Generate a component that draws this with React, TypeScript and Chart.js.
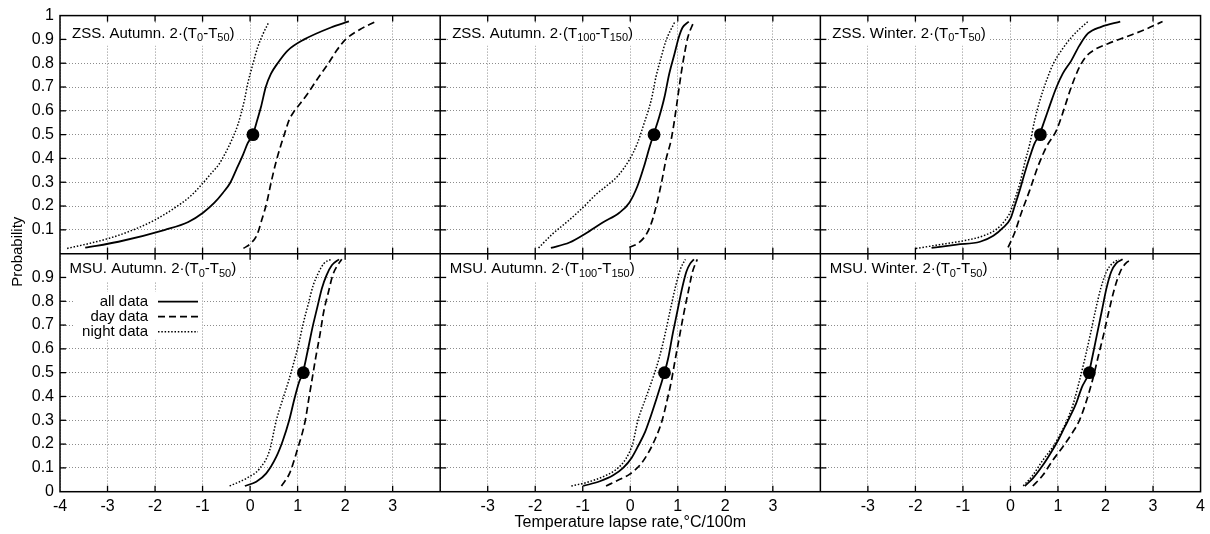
import React, { useEffect, useRef } from 'react';
import { Chart, registerables } from 'chart.js';

Chart.register(...registerables);

// ---------- data ----------
const panelTitles = [
  'ZSS. Autumn. 2·(T_{0}-T_{50})',
  'ZSS. Autumn. 2·(T_{100}-T_{150})',
  'ZSS. Winter. 2·(T_{0}-T_{50})',
  'MSU. Autumn. 2·(T_{0}-T_{50})',
  'MSU. Autumn. 2·(T_{100}-T_{150})',
  'MSU. Winter. 2·(T_{0}-T_{50})',
];
const seriesLabels = ['all data', 'day data', 'night data'];
const xTitle = 'Temperature lapse rate,°C/100m';
const yTitle = 'Probability';
const medians = [0.06, 0.5, 0.63, 1.12, 0.72, 1.66];

// ZSS Autumn 2(T0-T50)
const zssAutLowAll = [[-3.47,0.025],[-2.77,0.05],[-1.79,0.10],[-1.30,0.133],[-0.99,0.172],[-0.75,0.214],[-0.57,0.256],[-0.42,0.297],[-0.29,0.353],[-0.15,0.415],[-0.05,0.464],[0.06,0.5],[0.13,0.547],[0.23,0.617],[0.33,0.70],[0.44,0.756],[0.58,0.80],[0.79,0.853],[1.14,0.90],[1.70,0.95],[2.08,0.976]];
const zssAutLowDay = [[-0.14,0.022],[0.02,0.044],[0.15,0.081],[0.24,0.138],[0.35,0.214],[0.44,0.297],[0.54,0.381],[0.65,0.457],[0.74,0.513],[0.82,0.561],[0.92,0.596],[1.03,0.624],[1.21,0.672],[1.42,0.735],[1.64,0.797],[1.82,0.853],[2.01,0.90],[2.32,0.943],[2.64,0.975]];
const zssAutLowNight = [[-3.85,0.022],[-3.40,0.042],[-2.91,0.068],[-2.42,0.103],[-2.0,0.142],[-1.58,0.193],[-1.24,0.244],[-0.99,0.297],[-0.81,0.339],[-0.66,0.374],[-0.54,0.415],[-0.40,0.471],[-0.26,0.54],[-0.12,0.644],[-0.05,0.714],[0.06,0.797],[0.16,0.867],[0.27,0.922],[0.39,0.971]];

// ZSS Autumn 2(T100-T150)
const zssAutHighAll = [[-1.67,0.024],[-1.28,0.047],[-0.93,0.086],[-0.58,0.131],[-0.23,0.172],[-0.02,0.214],[0.15,0.283],[0.29,0.367],[0.41,0.45],[0.49,0.5],[0.61,0.575],[0.72,0.658],[0.82,0.756],[0.93,0.839],[1.02,0.908],[1.10,0.95],[1.23,0.975]];
const zssAutHighDay = [[-0.02,0.026],[0.19,0.047],[0.36,0.089],[0.47,0.144],[0.58,0.228],[0.67,0.311],[0.75,0.394],[0.86,0.478],[0.93,0.561],[1.0,0.658],[1.07,0.756],[1.14,0.839],[1.21,0.908],[1.33,0.971]];
const zssAutHighNight = [[-1.93,0.024],[-1.64,0.082],[-1.28,0.142],[-1.0,0.193],[-0.72,0.249],[-0.51,0.283],[-0.27,0.325],[-0.02,0.394],[0.15,0.464],[0.29,0.547],[0.44,0.644],[0.54,0.742],[0.65,0.825],[0.75,0.894],[0.93,0.971]];

// ZSS Winter 2(T0-T50)
const zssWinAll = [[-1.66,0.024],[-1.13,0.038],[-0.64,0.05],[-0.36,0.075],[-0.15,0.11],[0.0,0.147],[0.09,0.20],[0.20,0.269],[0.30,0.339],[0.41,0.408],[0.51,0.464],[0.61,0.5],[0.72,0.561],[0.83,0.624],[0.97,0.70],[1.10,0.756],[1.28,0.811],[1.45,0.874],[1.63,0.925],[1.91,0.953],[2.31,0.975]];
const zssWinDay = [[-0.05,0.026],[0.09,0.089],[0.23,0.172],[0.41,0.269],[0.58,0.367],[0.76,0.45],[0.97,0.519],[1.12,0.603],[1.28,0.70],[1.45,0.783],[1.59,0.828],[1.78,0.858],[2.05,0.882],[2.45,0.912],[2.85,0.943],[3.20,0.975]];
const zssWinNight = [[-1.99,0.022],[-1.48,0.038],[-0.99,0.054],[-0.57,0.075],[-0.29,0.103],[-0.12,0.138],[-0.01,0.172],[0.09,0.228],[0.20,0.297],[0.30,0.381],[0.41,0.464],[0.51,0.561],[0.62,0.644],[0.76,0.728],[0.90,0.797],[1.07,0.853],[1.28,0.908],[1.45,0.943],[1.63,0.975]];

// MSU Autumn 2(T0-T50)
const msuAutLowAll = [[-0.11,0.024],[0.13,0.042],[0.34,0.077],[0.55,0.146],[0.69,0.215],[0.82,0.298],[0.94,0.396],[1.03,0.46],[1.11,0.5],[1.21,0.59],[1.31,0.687],[1.41,0.771],[1.51,0.854],[1.61,0.91],[1.72,0.951],[1.87,0.976]];
const msuAutLowDay = [[0.66,0.024],[0.83,0.077],[0.99,0.174],[1.16,0.298],[1.24,0.396],[1.31,0.479],[1.38,0.5625],[1.47,0.66],[1.55,0.757],[1.65,0.84],[1.74,0.91],[1.84,0.951],[1.93,0.976]];
const msuAutLowNight = [[-0.43,0.024],[-0.08,0.056],[0.2,0.097],[0.41,0.173],[0.55,0.298],[0.70,0.396],[0.81,0.465],[0.91,0.535],[1.02,0.618],[1.11,0.70],[1.22,0.785],[1.33,0.868],[1.45,0.924],[1.55,0.958],[1.70,0.976]];

// MSU Autumn 2(T100-T150)
const msuAutHighAll = [[-0.99,0.024],[-0.64,0.044],[-0.36,0.069],[-0.15,0.1],[0.03,0.143],[0.17,0.194],[0.31,0.25],[0.40,0.299],[0.56,0.396],[0.66,0.46],[0.72,0.5],[0.80,0.5625],[0.89,0.66],[0.99,0.757],[1.09,0.854],[1.18,0.924],[1.26,0.958],[1.34,0.976]];
const msuAutHighDay = [[-0.51,0.024],[-0.23,0.051],[-0.01,0.074],[0.20,0.111],[0.37,0.16],[0.51,0.215],[0.67,0.299],[0.77,0.38],[0.86,0.46],[0.94,0.549],[1.03,0.646],[1.12,0.743],[1.22,0.84],[1.31,0.924],[1.41,0.976]];
const msuAutHighNight = [[-1.24,0.024],[-0.93,0.038],[-0.58,0.0625],[-0.30,0.093],[-0.09,0.139],[0.05,0.201],[0.16,0.299],[0.32,0.39],[0.48,0.48],[0.61,0.5625],[0.73,0.66],[0.85,0.771],[0.96,0.868],[1.06,0.9375],[1.16,0.976]];

// MSU Winter 2(T0-T50)
const msuWinAll = [[0.30,0.024],[0.47,0.056],[0.68,0.111],[0.86,0.167],[1.0,0.215],[1.14,0.271],[1.24,0.31],[1.38,0.37],[1.50,0.4375],[1.65,0.5],[1.72,0.5625],[1.82,0.66],[1.92,0.757],[2.02,0.854],[2.12,0.924],[2.22,0.958],[2.36,0.976]];
const msuWinDay = [[0.47,0.024],[0.68,0.069],[0.89,0.132],[1.10,0.188],[1.31,0.25],[1.45,0.299],[1.60,0.382],[1.74,0.479],[1.84,0.5625],[1.96,0.66],[2.07,0.757],[2.19,0.854],[2.31,0.924],[2.42,0.958],[2.56,0.976]];
const msuWinNight = [[0.27,0.024],[0.47,0.069],[0.68,0.132],[0.89,0.188],[1.07,0.25],[1.19,0.30],[1.32,0.368],[1.45,0.465],[1.57,0.5625],[1.68,0.66],[1.80,0.771],[1.90,0.854],[2.02,0.924],[2.14,0.958],[2.28,0.976]];

const panelSeries = [
  [zssAutLowAll, zssAutLowDay, zssAutLowNight],
  [zssAutHighAll, zssAutHighDay, zssAutHighNight],
  [zssWinAll, zssWinDay, zssWinNight],
  [msuAutLowAll, msuAutLowDay, msuAutLowNight],
  [msuAutHighAll, msuAutHighDay, msuAutHighNight],
  [msuWinAll, msuWinDay, msuWinNight],
];

// ---------- styles ----------
const FONT = '"Liberation Sans", Arial, Helvetica, sans-serif';
const GRID = '#8c8c8c';
const seriesStyles = [
  { dash: [] as number[], width: 1.8 },
  { dash: [7, 4], width: 1.7 },
  { dash: [1.5, 1.8], width: 1.5 },
];

function parseRich(s: string) {
  const parts: { t: string; sub: boolean }[] = [];
  const re = /_\{([^}]*)\}/g;
  let last = 0;
  let m: RegExpExecArray | null;
  while ((m = re.exec(s))) {
    if (m.index > last) parts.push({ t: s.slice(last, m.index), sub: false });
    parts.push({ t: m[1], sub: true });
    last = re.lastIndex;
  }
  if (last < s.length) parts.push({ t: s.slice(last), sub: false });
  return parts;
}

const MAIN_FONT = `15px ${FONT}`;
const SUB_FONT = `11px ${FONT}`;

function richWidth(ctx: CanvasRenderingContext2D, parts: { t: string; sub: boolean }[]) {
  let w = 0;
  for (const p of parts) {
    ctx.font = p.sub ? SUB_FONT : MAIN_FONT;
    w += ctx.measureText(p.t).width;
  }
  return w;
}

function drawRich(ctx: CanvasRenderingContext2D, parts: { t: string; sub: boolean }[], x: number, baseline: number) {
  let cx = x;
  for (const p of parts) {
    ctx.font = p.sub ? SUB_FONT : MAIN_FONT;
    ctx.fillText(p.t, cx, baseline + (p.sub ? 3.5 : 0));
    cx += ctx.measureText(p.t).width;
  }
}

const X_IDS = ['x1', 'x2', 'x3'];
const Y_IDS = ['yTop', 'yBot'];

function panelBox(chart: any, i: number) {
  const col = i % 3;
  const row = Math.floor(i / 3);
  const xs = chart.scales[X_IDS[col]];
  const ys = chart.scales[Y_IDS[row]];
  return {
    left: xs.getPixelForValue(-4),
    right: xs.getPixelForValue(4),
    top: ys.getPixelForValue(1),
    bottom: ys.getPixelForValue(0),
    row,
    col,
  };
}

const decorPlugin = {
  id: 'panelDecor',
  beforeDatasetsDraw(chart: any) {
    const ctx: CanvasRenderingContext2D = chart.ctx;
    ctx.save();
    // panel titles
    panelTitles.forEach((title, i) => {
      const b = panelBox(chart, i);
      const parts = parseRich(title);
      const x0 = b.left + (b.row === 0 ? 12 : 9.5);
      const base = b.top + (b.row === 0 ? 22 : 19.5);
      const w = richWidth(ctx, parts);
      ctx.fillStyle = '#fff';
      ctx.fillRect(x0 - 3, base - 14, w + 6, 22);
      ctx.fillStyle = '#000';
      ctx.textBaseline = 'alphabetic';
      ctx.textAlign = 'left';
      drawRich(ctx, parts, x0, base);
    });
    // legend in bottom-left panel
    const lb = panelBox(chart, 3);
    ctx.fillStyle = '#fff';
    ctx.fillRect(lb.left + 14, lb.top + 38, 128, 48);
    ctx.font = MAIN_FONT;
    ctx.textAlign = 'right';
    ctx.textBaseline = 'middle';
    seriesLabels.forEach((lab, k) => {
      const y = lb.top + 48 + k * 15;
      ctx.fillStyle = '#000';
      ctx.fillText(lab, lb.left + 88, y + 0.5);
      ctx.beginPath();
      ctx.strokeStyle = '#000';
      ctx.lineWidth = seriesStyles[k].width;
      ctx.setLineDash(seriesStyles[k].dash);
      ctx.moveTo(lb.left + 98, y);
      ctx.lineTo(lb.left + 138, y);
      ctx.stroke();
    });
    ctx.restore();
  },
  afterDatasetsDraw(chart: any) {
    const ctx: CanvasRenderingContext2D = chart.ctx;
    const xs = X_IDS.map((id) => chart.scales[id]);
    const ys = Y_IDS.map((id) => chart.scales[id]);
    const left = xs[0].getPixelForValue(-4);
    const right = xs[2].getPixelForValue(4);
    const top = ys[0].getPixelForValue(1);
    const bottom = ys[1].getPixelForValue(0);
    const mid = ys[1].getPixelForValue(1);
    const dividers = [xs[1].getPixelForValue(-4), xs[2].getPixelForValue(-4)];
    const line = (a: number, b: number, c: number, d: number) => {
      ctx.beginPath();
      ctx.moveTo(a, b);
      ctx.lineTo(c, d);
      ctx.stroke();
    };
    ctx.save();
    ctx.setLineDash([]);
    ctx.strokeStyle = '#000';
    ctx.lineWidth = 1.5;
    ctx.strokeRect(left, top, right - left, bottom - top);
    dividers.forEach((px) => line(px, top, px, bottom));
    line(left, mid, right, mid);
    const TL = 6;
    ctx.lineWidth = 1.3;
    xs.forEach((s: any) => {
      s.ticks.forEach((t: any) => {
        if (t.value <= -4 || t.value >= 4) return;
        const px = s.getPixelForValue(t.value);
        line(px, bottom, px, bottom - TL);
        line(px, top, px, top + TL);
        line(px, mid - TL, px, mid + TL);
      });
    });
    const verticals = [left, ...dividers, right];
    ys.forEach((s: any) => {
      s.ticks.forEach((t: any) => {
        if (t.value <= 0.001 || t.value >= 0.999) return;
        const py = s.getPixelForValue(t.value);
        verticals.forEach((vx, k) => {
          const a = k === 0 ? vx : vx - TL;
          const b = k === verticals.length - 1 ? vx : vx + TL;
          line(a, py, b, py);
        });
      });
    });
    ctx.restore();
  },
  afterDraw(chart: any) {
    const ctx: CanvasRenderingContext2D = chart.ctx;
    const ys = chart.scales.yBot;
    ctx.save();
    ctx.translate(18, ys.getPixelForValue(1) - 2);
    ctx.rotate(-Math.PI / 2);
    ctx.font = `15px ${FONT}`;
    ctx.fillStyle = '#000';
    ctx.textAlign = 'center';
    ctx.textBaseline = 'middle';
    ctx.fillText(yTitle, 0, 0);
    ctx.restore();
  },
};

function buildDatasets() {
  const ds: any[] = [];
  panelSeries.forEach((series, i) => {
    const col = i % 3;
    const row = Math.floor(i / 3);
    const xAxisID = X_IDS[col];
    const yAxisID = Y_IDS[row];
    [2, 1, 0].forEach((k) => {
      ds.push({
        label: `${panelTitles[i]} ${seriesLabels[k]}`,
        data: series[k].map(([x, y]) => ({ x, y })),
        xAxisID,
        yAxisID,
        borderColor: '#000',
        borderWidth: seriesStyles[k].width,
        borderDash: seriesStyles[k].dash,
        pointRadius: 0,
        pointHoverRadius: 0,
        fill: false,
        cubicInterpolationMode: 'monotone',
        showLine: true,
      });
    });
    ds.push({
      label: `${panelTitles[i]} median`,
      data: [{ x: medians[i], y: 0.5 }],
      xAxisID,
      yAxisID,
      showLine: false,
      pointRadius: 6.4,
      pointBackgroundColor: '#000',
      pointBorderColor: '#000',
      pointBorderWidth: 0,
    });
  });
  return ds;
}

const xLabelFilters = [
  (v: number) => (v === 4 ? '' : String(v)),
  (v: number) => (Math.abs(v) === 4 ? '' : String(v)),
  (v: number) => (v === -4 ? '' : String(v)),
];

function xScale(col: number) {
  return {
    type: 'linear',
    position: 'bottom',
    stack: 'cols',
    stackWeight: 1,
    weight: col,
    min: -4,
    max: 4,
    afterFit: (s: any) => {
      s.height = 42.3;
    },
    grid: { color: GRID, lineWidth: 1, drawTicks: false },
    border: { display: false, dash: [1, 2] },
    ticks: {
      stepSize: 1,
      autoSkip: false,
      maxRotation: 0,
      padding: 5,
      color: '#000',
      font: { family: FONT, size: 16 },
      callback: (v: any) => xLabelFilters[col](Number(v)),
    },
    title:
      col === 1
        ? { display: true, text: xTitle, color: '#000', font: { family: FONT, size: 16 }, padding: { top: 0, bottom: 2 } }
        : { display: false },
  };
}

function yScale(row: number) {
  return {
    type: 'linear',
    position: 'left',
    stack: 'rows',
    stackWeight: 1,
    weight: row === 0 ? 1 : 0,
    min: 0,
    max: 1,
    afterFit: (s: any) => {
      s.width = 60;
    },
    grid: { color: GRID, lineWidth: 1, drawTicks: false },
    border: { display: false, dash: [1, 2] },
    ticks: {
      stepSize: 0.1,
      autoSkip: false,
      padding: 6,
      color: '#000',
      font: { family: FONT, size: 16 },
      callback: (v: any) => {
        const n = Math.round(Number(v) * 10) / 10;
        if (row === 0 && n === 0) return '';
        if (row === 1 && n === 1) return '';
        return String(n);
      },
    },
  };
}

export default function App() {
  const ref = useRef<HTMLCanvasElement>(null);
  useEffect(() => {
    const canvas = ref.current;
    if (!canvas) return;
    const chart = new Chart(canvas, {
      type: 'line',
      data: { datasets: buildDatasets() },
      options: {
        responsive: false,
        animation: false,
        layout: { padding: { top: 11, right: 9, left: 0, bottom: 0 } },
        plugins: { legend: { display: false }, tooltip: { enabled: false } },
        scales: {
          x1: xScale(0),
          x2: xScale(1),
          x3: xScale(2),
          yTop: yScale(0),
          yBot: yScale(1),
        } as any,
      },
      plugins: [decorPlugin],
    } as any);
    return () => chart.destroy();
  }, []);
  return (
    <div style={{ position: 'fixed', left: 0, top: 0, width: 1210, height: 534, background: '#fff' }}>
      <canvas ref={ref} width={1210} height={534} style={{ display: 'block', width: 1210, height: 534 }} />
    </div>
  );
}
